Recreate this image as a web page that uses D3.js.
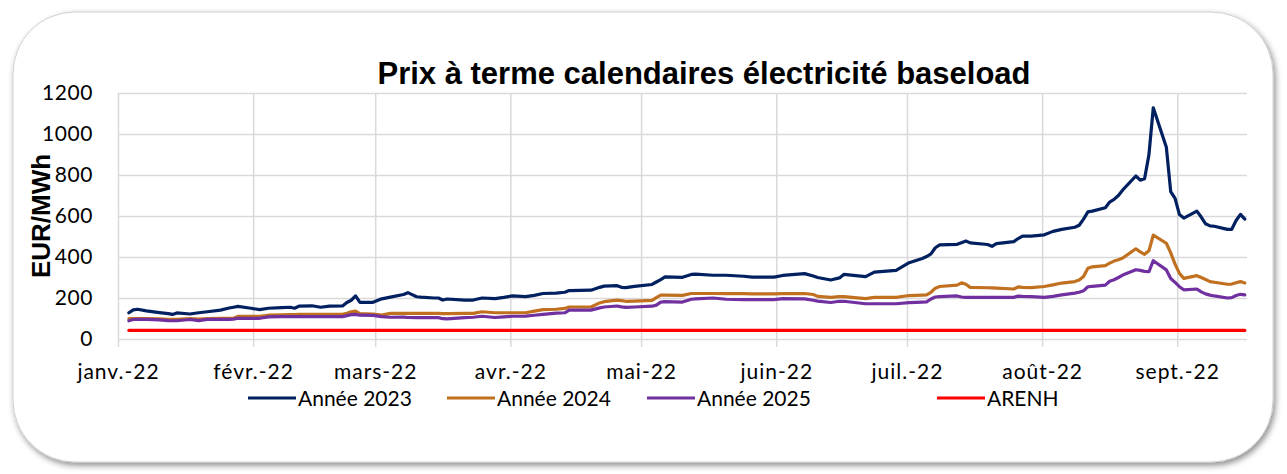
<!DOCTYPE html>
<html>
<head>
<meta charset="utf-8">
<script src="https://cdn.jsdelivr.net/npm/d3@7"></script>
<style>
  body { margin: 0; background: #fff; }
  svg { display: block; }
</style>
</head>
<body>
<svg id="chart" width="1287" height="474"></svg>
<script>
// trading days (2022)
const dates = [
  "2022-01-03","2022-01-04","2022-01-05","2022-01-07","2022-01-10","2022-01-12","2022-01-13","2022-01-14",
  "2022-01-17","2022-01-19","2022-01-21","2022-01-24","2022-01-26","2022-01-27","2022-01-28","2022-01-31",
  "2022-02-02","2022-02-04","2022-02-07","2022-02-09","2022-02-10","2022-02-11","2022-02-14","2022-02-16",
  "2022-02-18","2022-02-21","2022-02-22","2022-02-23","2022-02-24","2022-02-25","2022-02-28",
  "2022-03-02","2022-03-04","2022-03-07","2022-03-08","2022-03-10","2022-03-11","2022-03-14","2022-03-15",
  "2022-03-16","2022-03-17","2022-03-21","2022-03-23","2022-03-25","2022-03-28","2022-03-30",
  "2022-04-01","2022-04-04","2022-04-06","2022-04-08","2022-04-11","2022-04-13","2022-04-14","2022-04-19",
  "2022-04-21","2022-04-22","2022-04-25","2022-04-26","2022-04-27","2022-04-29",
  "2022-05-03","2022-05-04","2022-05-05","2022-05-06","2022-05-10","2022-05-12","2022-05-13","2022-05-17",
  "2022-05-20","2022-05-24","2022-05-26","2022-05-31",
  "2022-06-02","2022-06-07","2022-06-09","2022-06-10","2022-06-13","2022-06-15","2022-06-16","2022-06-21",
  "2022-06-23","2022-06-28",
  "2022-07-01","2022-07-04","2022-07-05","2022-07-06","2022-07-07","2022-07-08","2022-07-12","2022-07-13",
  "2022-07-14","2022-07-15","2022-07-19","2022-07-20","2022-07-21","2022-07-25","2022-07-26","2022-07-27",
  "2022-07-29",
  "2022-08-01","2022-08-03","2022-08-05","2022-08-08","2022-08-09","2022-08-10","2022-08-11","2022-08-12",
  "2022-08-15","2022-08-16","2022-08-17","2022-08-18","2022-08-19","2022-08-22","2022-08-23","2022-08-24",
  "2022-08-25","2022-08-26","2022-08-29","2022-08-30","2022-08-31",
  "2022-09-01","2022-09-02","2022-09-05","2022-09-06","2022-09-07","2022-09-08","2022-09-09","2022-09-12",
  "2022-09-13","2022-09-14","2022-09-15","2022-09-16"
];

const annee2023 = [
  128,142,145,137,129,124,120,127,122,128,133,141,151,155,159,150,
  143,150,153,155,150,160,162,155,160,161,178,189,210,179,179,
  196,204,217,226,206,204,200,200,190,195,190,190,200,197,203,
  210,207,213,222,224,228,236,238,252,258,260,252,251,257,
  266,278,290,303,301,315,316,311,311,306,302,302,
  310,319,307,300,288,298,315,304,326,335,
  372,393,402,415,445,459,462,470,478,469,461,452,465,475,490,502,502,
  508,525,535,545,555,585,620,624,640,668,681,700,727,795,775,782,898,1128,935,719,686,
  607,590,624,595,562,552,550,535,535,578,608,585
];

const annee2024 = [
  99,99,99,99,98,96,96,96,99,97,100,101,101,101,110,111,
  111,116,118,119,119,120,120,120,120,120,126,133,136,124,122,
  117,125,125,125,125,125,125,125,124,124,125,125,133,128,128,
  128,128,136,143,145,149,156,156,176,182,190,187,184,185,
  188,202,214,214,213,222,222,222,221,221,220,220,
  221,222,217,208,203,207,207,197,203,203,
  212,214,215,228,248,256,263,274,267,252,250,249,248,244,254,252,251,
  256,264,273,280,288,305,345,352,358,370,380,387,395,440,425,413,430,507,467,420,365,
  320,296,309,300,290,280,277,267,268,274,280,273
];

const annee2025 = [
  89,95,96,96,93,90,89,89,95,90,96,96,96,97,101,101,
  101,108,109,109,109,109,109,109,109,109,114,119,120,116,115,
  109,106,107,105,104,104,104,104,99,98,104,106,111,105,108,
  111,112,116,120,126,128,141,141,152,156,161,157,154,156,
  160,165,180,182,180,194,196,200,194,192,192,192,
  197,196,189,185,178,184,184,172,172,172,
  177,180,181,195,205,207,210,205,203,203,203,203,203,203,209,208,207,
  203,208,215,224,228,235,255,257,263,282,289,300,312,338,335,330,328,382,337,295,276,
  255,240,244,230,220,214,210,200,202,212,218,215
];

// ARENH regulated price, flat over the period
const arenhDates = ["2022-01-03", "2022-09-16"];
const arenhValues = [42, 42];

const monthLabels = ["janv.-22","févr.-22","mars-22","avr.-22","mai-22","juin-22","juil.-22","août-22","sept.-22"];
const yTicks = [0, 200, 400, 600, 800, 1000, 1200];

const seriesNames = ["Année 2023", "Année 2024", "Année 2025", "ARENH"];
const seriesColors = ["#002060", "#C0701F", "#7030A0", "#FF0000"];

const parseDate = d3.timeParse("%Y-%m-%d");

const plot = { left: 118, right: 1247, top: 93, bottom: 339 };
const labelFont = "Lato, 'Open Sans', sans-serif";
const boldFont = "'Liberation Sans', Arial, sans-serif";

const svg = d3.select("#chart");

// frame with soft shadow
const defs = svg.append("defs");
const shadow = defs.append("filter").attr("id", "shadow")
  .attr("x", "-5%").attr("y", "-5%").attr("width", "110%").attr("height", "115%");
shadow.append("feDropShadow")
  .attr("dx", 2).attr("dy", 3).attr("stdDeviation", 3)
  .attr("flood-color", "#000").attr("flood-opacity", 0.45);

svg.append("rect")
  .attr("x", 13).attr("y", 12)
  .attr("width", 1260).attr("height", 450)
  .attr("rx", 62).attr("ry", 62)
  .attr("fill", "#fff")
  .attr("stroke", "#d0d0d0")
  .attr("stroke-width", 1)
  .attr("filter", "url(#shadow)");

const x = d3.scaleTime()
  .domain([new Date(2022, 0, 1), new Date(2022, 8, 17)])
  .range([plot.left, plot.right]);

const y = d3.scaleLinear()
  .domain([0, 1200])
  .range([plot.bottom, plot.top]);

// Excel plots each day in the middle of its slot
const xPos = (d) => x(d3.timeHour.offset(d, 12));

const months = d3.timeMonth.range(new Date(2022, 0, 1), new Date(2022, 8, 2));

// horizontal grid + y labels
const yAxis = svg.append("g")
  .attr("transform", `translate(${plot.left},0)`)
  .call(d3.axisLeft(y).tickValues(yTicks).tickSize(0).tickPadding(25).tickFormat(d3.format("d")));
yAxis.select(".domain").remove();
yAxis.selectAll(".tick line")
  .attr("x1", 0).attr("x2", plot.right - plot.left)
  .attr("stroke", "#d9d9d9").attr("stroke-width", 1.5);
yAxis.selectAll(".tick text")
  .attr("font-family", labelFont).attr("font-size", 21)
  .attr("letter-spacing", 0.6).attr("fill", "#000");

// vertical grid + month labels
const xAxis = svg.append("g")
  .attr("transform", `translate(0,${plot.bottom})`)
  .call(d3.axisBottom(x).tickValues(months).tickSize(0).tickPadding(0)
    .tickFormat((d, i) => monthLabels[i]));
xAxis.select(".domain").remove();
xAxis.selectAll(".tick line")
  .attr("y1", 8).attr("y2", plot.top - plot.bottom)
  .attr("stroke", "#d9d9d9").attr("stroke-width", 1.5);
xAxis.selectAll(".tick text")
  .attr("dy", null).attr("y", 40)
  .attr("font-family", labelFont).attr("font-size", 21)
  .attr("letter-spacing", 1).attr("fill", "#000");

// lines
const line = d3.line()
  .x((d) => xPos(d.date))
  .y((d) => y(d.value));

const parsed = dates.map(parseDate);
const series = [annee2023, annee2024, annee2025].map((vals) =>
  vals.map((v, i) => ({ date: parsed[i], value: v }))
);
series.push(arenhDates.map((d, i) => ({ date: parseDate(d), value: arenhValues[i] })));

svg.append("g")
  .selectAll("path")
  .data(series)
  .join("path")
  .attr("d", line)
  .attr("fill", "none")
  .attr("stroke", (d, i) => seriesColors[i])
  .attr("stroke-width", 3.2)
  .attr("stroke-linejoin", "round")
  .attr("stroke-linecap", "round");

// title
svg.append("text")
  .attr("x", 704).attr("y", 84)
  .attr("text-anchor", "middle")
  .attr("font-family", boldFont)
  .attr("font-weight", "bold")
  .attr("font-size", 31)
  .attr("fill", "#000")
  .text("Prix à terme calendaires électricité baseload");

// y axis title
svg.append("text")
  .attr("transform", "translate(50,216) rotate(-90)")
  .attr("text-anchor", "middle")
  .attr("font-family", boldFont)
  .attr("font-weight", "bold")
  .attr("font-size", 26)
  .attr("fill", "#000")
  .text("EUR/MWh");

// legend
const legendX = [248, 447, 647, 937];
const legend = svg.append("g")
  .selectAll("g")
  .data(seriesNames)
  .join("g")
  .attr("transform", (d, i) => `translate(${legendX[i]},398)`);

legend.append("line")
  .attr("x1", 0).attr("x2", 48)
  .attr("stroke", (d, i) => seriesColors[i])
  .attr("stroke-width", 3.2);

legend.append("text")
  .attr("x", 50).attr("y", 8)
  .attr("font-family", labelFont)
  .attr("font-size", 21)
  .attr("fill", "#000")
  .text((d) => d);
</script>
</body>
</html>
